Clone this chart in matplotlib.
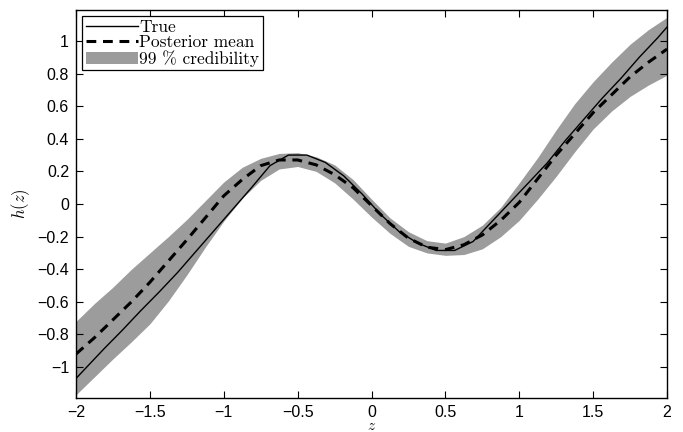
import matplotlib
matplotlib.use("Agg")
import matplotlib.pyplot as plt
from matplotlib.ticker import FuncFormatter

# true function, sampled on a coarse grid
z_true = [-2.0, -1.9375, -1.8125, -1.6875, -1.5625, -1.4375, -1.3125, -1.1875,
          -1.0625, -0.9375, -0.8125, -0.6875, -0.5625, -0.4375, -0.3125, -0.1875,
          -0.0625, 0.0625, 0.1875, 0.3125, 0.4375, 0.5625, 0.6875, 0.8125,
          0.9375, 1.0625, 1.1875, 1.3125, 1.4375, 1.5625, 1.6875, 1.8125,
          1.9375, 2.0]
h_true = [-1.07, -1.01, -0.89, -0.775, -0.655, -0.54, -0.42, -0.29,
          -0.16, -0.03, 0.10, 0.235, 0.30, 0.30, 0.255, 0.172,
          0.06, -0.065, -0.17, -0.24, -0.285, -0.285, -0.23, -0.11,
          0.01, 0.13, 0.25, 0.39, 0.52, 0.65, 0.77, 0.90,
          1.02, 1.085]

# posterior mean and 99 % band
z_post = [-2.0, -1.875, -1.75, -1.625, -1.5, -1.375, -1.25, -1.125, -1.0,
          -0.875, -0.75, -0.625, -0.5, -0.375, -0.25, -0.125, 0.0,
          0.125, 0.25, 0.375, 0.5, 0.625, 0.75, 0.875, 1.0,
          1.125, 1.25, 1.375, 1.5, 1.625, 1.75, 1.875, 2.0]
h_mean = [-0.92, -0.82, -0.71, -0.60, -0.48, -0.35, -0.22, -0.085, 0.05,
          0.15, 0.235, 0.27, 0.27, 0.24, 0.18, 0.10, -0.01,
          -0.12, -0.21, -0.265, -0.28, -0.25, -0.19, -0.10, 0.01,
          0.155, 0.30, 0.43, 0.56, 0.67, 0.78, 0.87, 0.95]
h_upper = [-0.72, -0.61, -0.51, -0.40, -0.30, -0.20, -0.095, 0.02, 0.135,
           0.225, 0.28, 0.31, 0.315, 0.29, 0.24, 0.15, 0.03,
           -0.085, -0.17, -0.225, -0.24, -0.20, -0.13, -0.02, 0.13,
           0.285, 0.455, 0.615, 0.75, 0.87, 0.98, 1.07, 1.145]
h_lower = [-1.17, -1.06, -0.95, -0.845, -0.735, -0.595, -0.435, -0.265, -0.105,
           0.035, 0.145, 0.215, 0.23, 0.20, 0.13, 0.03, -0.08,
           -0.18, -0.26, -0.30, -0.315, -0.31, -0.275, -0.20, -0.10,
           0.03, 0.17, 0.32, 0.46, 0.57, 0.66, 0.73, 0.79]

x_ticks = [-2, -1.5, -1, -0.5, 0, 0.5, 1, 1.5, 2]
y_ticks = [-1, -0.8, -0.6, -0.4, -0.2, 0, 0.2, 0.4, 0.6, 0.8, 1]


def fmt(v, pos):
    s = "%g" % round(v, 2)
    return s.replace("-", "\u2212")


def main():
    plt.rcParams["font.family"] = "Liberation Sans"
    plt.rcParams["mathtext.fontset"] = "cm"

    fig = plt.figure(figsize=(6.83, 4.32), dpi=100)
    ax = fig.add_axes([0.1113, 0.0787, 0.8653, 0.8982])

    band = ax.fill_between(z_post, h_lower, h_upper, color="#9c9c9c",
                           linewidth=0, label="99 % credibility")
    true_line, = ax.plot(z_true, h_true, color="black", linewidth=1.0, label="True")
    mean_line, = ax.plot(z_post, h_mean, color="black", linewidth=2.2,
                         dashes=(3.2, 2.2), label="Posterior mean")

    ax.set_xlim(-2, 2)
    ax.set_ylim(-1.19, 1.19)
    ax.set_xticks(x_ticks)
    ax.set_yticks(y_ticks)
    ax.xaxis.set_major_formatter(FuncFormatter(fmt))
    ax.yaxis.set_major_formatter(FuncFormatter(fmt))
    ax.tick_params(direction="in", top=True, right=True, length=5,
                   width=0.8, labelsize=11.5, pad=5)
    for sp in ax.spines.values():
        sp.set_linewidth(1.0)

    ax.set_xlabel("$z$", fontsize=11, labelpad=-1)
    ax.set_ylabel("$h(z)$", fontsize=12, labelpad=4)

    leg = ax.legend(handles=[true_line, mean_line, band], loc="upper left",
                    prop={"family": "cmr10", "size": 12.5},
                    handlelength=3.0, handletextpad=0.1, labelspacing=0.0,
                    borderpad=0.2, borderaxespad=0.35, fancybox=False,
                    framealpha=1, edgecolor="black")
    leg.get_frame().set_linewidth(0.9)

    fig.savefig("out.png", dpi=100)


if __name__ == "__main__":
    main()
